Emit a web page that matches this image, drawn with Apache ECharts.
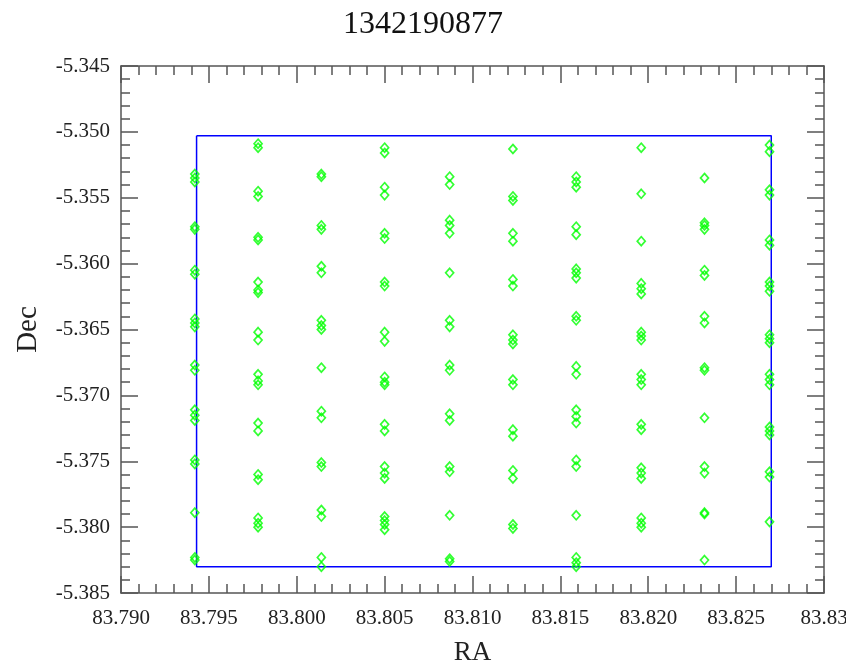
<!DOCTYPE html>
<html>
<head>
<meta charset="utf-8">
<script src="https://cdn.jsdelivr.net/npm/echarts@6/dist/echarts.min.js"></script>
<style>
  html, body { margin: 0; padding: 0; background: #fff; }
  #chart { width: 846px; height: 665px; }
</style>
</head>
<body>
<div id="chart"></div>
<script>
// RA of each column of pointings
let colRA = [83.7942, 83.7978, 83.8014, 83.8050, 83.8087, 83.8123, 83.8159, 83.8196, 83.8232, 83.8269];
// Dec values, one list per column
let colDec = [
  [-5.3532, -5.3535, -5.3538, -5.3572, -5.3574, -5.3605, -5.3608, -5.3642, -5.3645, -5.3648, -5.3677, -5.3681, -5.3711, -5.3715, -5.3719, -5.3749, -5.3752, -5.3789, -5.3823, -5.3825],
  [-5.3509, -5.3512, -5.3545, -5.3549, -5.3580, -5.3582, -5.3614, -5.3620, -5.3622, -5.3652, -5.3658, -5.3684, -5.3689, -5.3692, -5.3721, -5.3727, -5.3760, -5.3764, -5.3793, -5.3797, -5.3800],
  [-5.3532, -5.3534, -5.3571, -5.3574, -5.3602, -5.3607, -5.3643, -5.3647, -5.3650, -5.3679, -5.3712, -5.3717, -5.3751, -5.3754, -5.3787, -5.3792, -5.3823, -5.3830],
  [-5.3512, -5.3516, -5.3542, -5.3548, -5.3577, -5.3581, -5.3614, -5.3617, -5.3652, -5.3659, -5.3686, -5.3690, -5.3692, -5.3722, -5.3727, -5.3754, -5.3759, -5.3763, -5.3792, -5.3795, -5.3798, -5.3802],
  [-5.3534, -5.3540, -5.3567, -5.3571, -5.3577, -5.3607, -5.3643, -5.3648, -5.3677, -5.3681, -5.3714, -5.3719, -5.3754, -5.3758, -5.3791, -5.3824, -5.3826],
  [-5.3513, -5.3549, -5.3552, -5.3577, -5.3583, -5.3612, -5.3617, -5.3654, -5.3658, -5.3661, -5.3688, -5.3692, -5.3726, -5.3731, -5.3757, -5.3763, -5.3798, -5.3801],
  [-5.3534, -5.3538, -5.3542, -5.3572, -5.3578, -5.3604, -5.3607, -5.3611, -5.3640, -5.3643, -5.3678, -5.3684, -5.3711, -5.3716, -5.3721, -5.3749, -5.3754, -5.3791, -5.3823, -5.3827, -5.3830],
  [-5.3512, -5.3547, -5.3583, -5.3615, -5.3619, -5.3623, -5.3652, -5.3655, -5.3658, -5.3684, -5.3688, -5.3692, -5.3722, -5.3726, -5.3755, -5.3759, -5.3763, -5.3793, -5.3797, -5.3800],
  [-5.3535, -5.3569, -5.3571, -5.3574, -5.3605, -5.3609, -5.3640, -5.3645, -5.3679, -5.3681, -5.3717, -5.3754, -5.3759, -5.3789, -5.3790, -5.3825],
  [-5.3510, -5.3515, -5.3544, -5.3548, -5.3582, -5.3586, -5.3614, -5.3617, -5.3621, -5.3654, -5.3657, -5.3660, -5.3684, -5.3688, -5.3692, -5.3724, -5.3727, -5.3730, -5.3758, -5.3762, -5.3796]
];
// footprint box
let boxRA = [83.7943, 83.8270, 83.8270, 83.7943, 83.7943];
let boxDec = [-5.3503, -5.3503, -5.3830, -5.3830, -5.3503];

let xTickLabels = ['83.790', '83.795', '83.800', '83.805', '83.810', '83.815', '83.820', '83.825', '83.83'];
let yTickLabels = ['-5.385', '-5.380', '-5.375', '-5.370', '-5.365', '-5.360', '-5.355', '-5.350', '-5.345'];

let xMin = 83.79, xMax = 83.83, yMin = -5.385, yMax = -5.345, step = 0.005;

let pts = [];
for (let i = 0; i < colRA.length; i++) {
  for (let j = 0; j < colDec[i].length; j++) {
    pts.push([colRA[i], colDec[i][j]]);
  }
}
let box = boxRA.map((x, i) => [x, boxDec[i]]);

const font = 'Liberation Serif';
const axCol = '#555';

function mkAxis(type, pos, showLabel, labels, min, max) {
  return {
    type: 'value',
    position: pos,
    min: min,
    max: max,
    interval: step,
    scale: true,
    splitLine: { show: false },
    axisLine: { show: true, onZero: false, lineStyle: { color: axCol, width: 1.5 } },
    axisTick: { show: true, inside: true, length: 17, lineStyle: { color: axCol, width: 1.5 } },
    minorTick: { show: true, splitNumber: 5, length: 9, lineStyle: { color: axCol, width: 1.5 } },
    minorSplitLine: { show: false },
    axisLabel: {
      show: showLabel,
      fontFamily: font,
      fontSize: 21,
      color: '#222',
      margin: type === 'x' ? 15 : 11,
      formatter: (v) => labels[Math.round((v - min) / step)]
    }
  };
}

let chart = echarts.init(document.getElementById('chart'));

let xa0 = mkAxis('x', 'bottom', true, xTickLabels, xMin, xMax);
xa0.name = 'RA';
xa0.nameLocation = 'middle';
xa0.nameGap = 46;
xa0.nameTextStyle = { fontFamily: font, fontSize: 27, color: '#222' };
let xa1 = mkAxis('x', 'top', false, xTickLabels, xMin, xMax);

let ya0 = mkAxis('y', 'left', true, yTickLabels, yMin, yMax);
ya0.name = 'Dec';
ya0.nameLocation = 'middle';
ya0.nameGap = 78;
ya0.nameTextStyle = { fontFamily: font, fontSize: 29, color: '#222' };
let ya1 = mkAxis('y', 'right', false, yTickLabels, yMin, yMax);

chart.setOption({
  animation: false,
  backgroundColor: '#fff',
  title: {
    text: '1342190877',
    left: 418,
    textAlign: 'center',
    top: 4,
    textStyle: { fontFamily: font, fontSize: 32, fontWeight: 'normal', color: '#111' }
  },
  grid: { left: 121, right: 22, top: 66, bottom: 72, containLabel: false, outerBoundsMode: 'none' },
  xAxis: [xa0, xa1],
  yAxis: [ya0, ya1],
  series: [
    {
      type: 'line',
      data: box,
      xAxisIndex: 0,
      yAxisIndex: 0,
      symbol: 'none',
      lineStyle: { color: '#0000ff', width: 1.5 },
      z: 1
    },
    {
      type: 'scatter',
      data: pts,
      xAxisIndex: 0,
      yAxisIndex: 0,
      symbol: 'diamond',
      symbolSize: [8, 9],
      itemStyle: { color: 'rgba(0,0,0,0)', borderColor: '#00ff00', borderWidth: 1.7 },
      z: 3
    }
  ]
});
</script>
</body>
</html>
